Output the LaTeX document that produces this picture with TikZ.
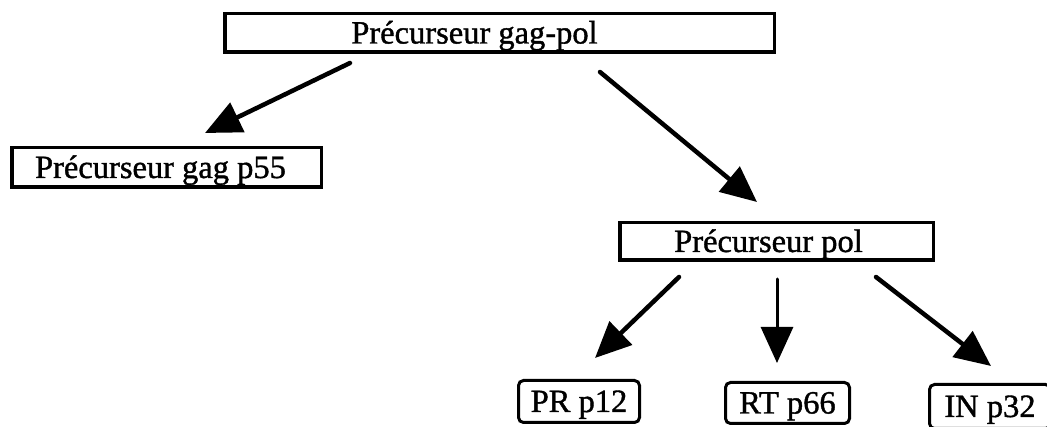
\documentclass[tikz,border=0pt]{standalone}
\usepackage{fontspec}
\setmainfont{Liberation Serif}
\newfontfamily\boxfont{Liberation Serif}[FakeBold=1.2]
\usetikzlibrary{arrows.meta}

\tikzset{
  box/.style={draw, line width=3.5pt, rectangle, inner sep=0pt,
    text height=21pt, text depth=0pt,
    font=\boxfont\fontsize{32.5}{38}\selectfont},
  rbox/.style={box, line width=3pt, rounded corners=5pt},
  txtoff/.style={execute at begin node={\hspace*{#1}}},
  arr/.style={line width=4.5pt, line cap=round,
    -{Triangle[length=36pt,width=32pt]}},
  thinarr/.style={arr, line width=3pt}
}

\begin{document}
\begin{tikzpicture}[x=1pt, y=-1pt]
  \useasboundingbox (0,0) rectangle (1047,427);
  \clip (0,0) rectangle (1047,427);

  % precursor boxes
  \node[box, minimum width=549.5pt, minimum height=38.5pt, txtoff=-50pt]
    (gagpol) at (499.5,33) {Précurseur gag-pol};
  \node[box, minimum width=309.5pt, minimum height=39.5pt, txtoff=-12pt]
    (gag) at (166.5,167.5) {Précurseur gag p55};
  \node[box, minimum width=313.5pt, minimum height=37.5pt, txtoff=-16pt]
    (pol) at (776.5,241.5) {Précurseur pol};

  % mature enzymes
  \node[rbox, minimum width=121pt, minimum height=42pt]
    (pr) at (579,401.5) {PR p12};
  \node[rbox, minimum width=124pt, minimum height=41pt]
    (rt) at (787.5,403) {RT p66};
  \node[rbox, minimum width=121pt, minimum height=44pt]
    (in) at (990,406.5) {IN p32};

  % arrow ends
  \coordinate (gagpol-l) at (350,63);
  \coordinate (gag-in)   at (205,133);
  \coordinate (gagpol-r) at (600,72);
  \coordinate (pol-in)   at (757,202);
  \coordinate (pol-l)    at (679,277);
  \coordinate (pr-in)    at (595,358);
  \coordinate (pol-m)    at (777,279);
  \coordinate (rt-in)    at (777,363);
  \coordinate (pol-r)    at (876,277);
  \coordinate (in-in)    at (991,366);

  \draw[arr] (gagpol-l) -- (gag-in);
  \draw[arr] (gagpol-r) -- (pol-in);
  \draw[arr] (pol-l) -- (pr-in);
  \draw[thinarr] (pol-m) -- (rt-in);
  \draw[arr] (pol-r) -- (in-in);
\end{tikzpicture}
\end{document}
